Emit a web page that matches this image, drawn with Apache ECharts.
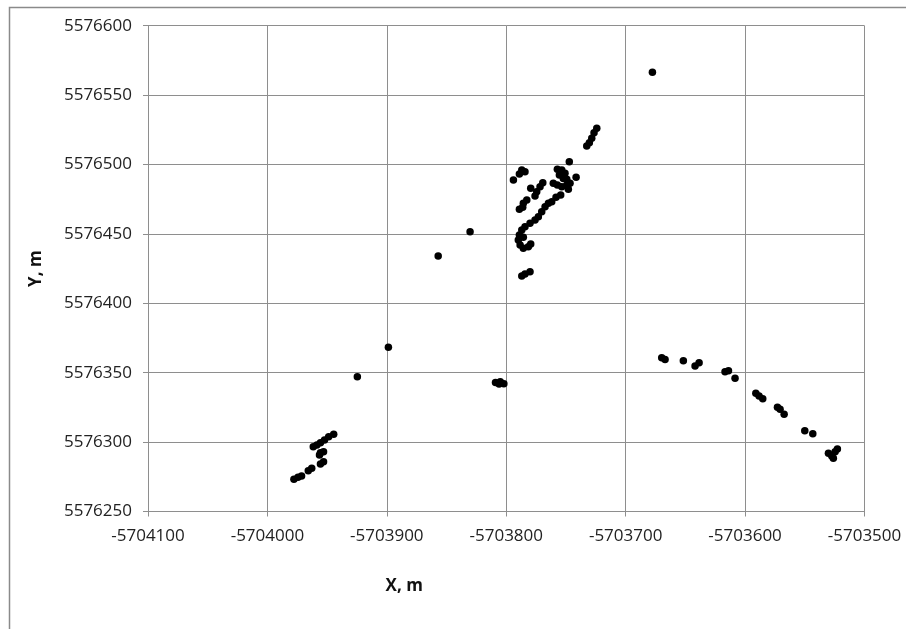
<!DOCTYPE html>
<html>
<head>
<meta charset="utf-8">
<script src="https://cdn.jsdelivr.net/npm/echarts@6/dist/echarts.min.js"></script>
<style>
html,body{margin:0;padding:0;background:#fff;}
#chart{width:906px;height:629px;}
</style>
</head>
<body>
<div id="chart"></div>
<script>
// Point coordinates (X, m) and (Y, m)
const xValues = [
  // south-west group
  -5703977.8,-5703974.4,-5703971.4,-5703965.8,-5703962.9,-5703955.6,-5703953.0,-5703956.4,-5703953.0,-5703955.6,
  -5703961.6,-5703958.6,-5703955.6,-5703952.2,-5703948.7,-5703944.5,
  // isolated points
  -5703924.7,-5703898.7,-5703857.0,-5703830.3,-5703677.6,
  // group near -5703805
  -5703809.0,-5703805.0,-5703802.0,-5703806.0,
  // north-east group
  -5703724.2,-5703726.5,-5703728.4,-5703730.4,-5703732.6,-5703747.2,
  -5703757.2,-5703753.5,-5703755.5,-5703752.2,-5703749.3,-5703760.6,-5703757.2,-5703753.5,-5703749.3,-5703746.6,
  -5703741.5,-5703750.8,-5703748.0,-5703754.4,-5703758.3,-5703761.9,
  -5703787.0,-5703784.3,-5703789.0,-5703794.0,
  -5703769.4,-5703771.7,-5703774.5,-5703775.9,-5703779.5,
  -5703782.8,-5703785.7,-5703786.2,-5703789.0,
  -5703764.7,-5703767.5,-5703770.3,-5703773.1,-5703775.9,-5703780.1,-5703784.3,-5703787.0,-5703789.0,-5703789.9,
  -5703788.4,-5703785.7,-5703781.5,-5703779.5,-5703785.7,
  -5703787.0,-5703784.3,-5703780.1,
  // south-east group
  -5703669.8,-5703667.0,-5703651.7,-5703641.9,-5703638.5,-5703616.8,-5703613.9,-5703608.4,
  -5703591.0,-5703588.3,-5703585.2,-5703572.9,-5703570.7,-5703567.3,-5703550.0,-5703543.3,
  -5703530.2,-5703527.4,-5703524.6,-5703522.7,-5703526.1
];
const yValues = [
  5576273.2,5576274.6,5576275.6,5576279.4,5576281.1,5576284.2,5576285.9,5576290.7,5576293.1,5576292.4,
  5576296.7,5576297.9,5576299.6,5576301.5,5576303.9,5576305.6,
  5576347.1,5576368.3,5576434.0,5576451.6,5576566.4,
  5576343.0,5576343.5,5576342.0,5576341.8,
  5576526.1,5576522.9,5576518.9,5576515.7,5576513.3,5576502.0,
  5576496.5,5576496.0,5576492.4,5576490.0,5576489.3,5576486.5,5576485.2,5576484.0,5576485.2,5576486.5,
  5576490.8,5576493.7,5576482.1,5576478.0,5576476.4,5576473.2,
  5576496.0,5576494.8,5576493.2,5576488.8,
  5576486.9,5576484.0,5576480.4,5576477.3,5576482.9,
  5576474.4,5576472.0,5576469.2,5576467.7,
  5576472.0,5576469.6,5576466.0,5576462.4,5576460.0,5576457.6,5576455.2,5576452.8,5576449.2,5576445.6,
  5576442.0,5576439.6,5576440.8,5576442.7,5576447.6,
  5576419.7,5576421.1,5576422.8,
  5576360.8,5576359.5,5576358.6,5576354.8,5576357.2,5576350.7,5576351.4,5576346.0,
  5576335.2,5576333.2,5576331.3,5576325.1,5576323.6,5576320.0,5576308.2,5576306.1,
  5576291.9,5576290.0,5576293.1,5576295.0,5576288.3
];
const xAxisName = 'X, m';
const yAxisName = 'Y, m';

const points = xValues.map((x, i) => [x, yValues[i]]);

const chart = echarts.init(document.getElementById('chart'), null, {renderer: 'canvas'});
const gridColor = '#8e8e8e';
const labelFont = {fontFamily: '"Open Sans", sans-serif', fontSize: 17, color: '#222'};

chart.setOption({
  animation: false,
  backgroundColor: '#fff',
  grid: {left: 148, right: 41.5, top: 25.7, bottom: 117.5, containLabel: false},
  graphic: [{
    type: 'rect',
    shape: {x: 9.5, y: 7.5, width: 1000, height: 1000},
    style: {fill: 'none', stroke: '#8a8a8a', lineWidth: 1.5},
    silent: true, z: 0
  }],
  xAxis: {
    type: 'value',
    min: -5704100, max: -5703500, interval: 100,
    name: xAxisName,
    nameLocation: 'middle',
    nameGap: 66,
    nameTextStyle: {fontFamily: '"Open Sans", sans-serif', fontSize: 17, fontWeight: 'bold', color: '#111', padding: [0, 204, 0, 0]},
    axisLine: {show: true, onZero: false, lineStyle: {color: gridColor, width: 1}},
    axisTick: {show: true, inside: false, length: 5, lineStyle: {color: gridColor}},
    axisLabel: Object.assign({margin: 16, formatter: v => String(v)}, labelFont),
    splitLine: {show: true, lineStyle: {color: gridColor, width: 1}}
  },
  yAxis: {
    type: 'value',
    min: 5576250, max: 5576600, interval: 50,
    name: yAxisName,
    nameLocation: 'middle',
    nameGap: 103,
    nameRotate: 90,
    nameTextStyle: {fontFamily: '"Open Sans", sans-serif', fontSize: 17, fontWeight: 'bold', color: '#111'},
    axisLine: {show: true, onZero: false, lineStyle: {color: gridColor, width: 1}},
    axisTick: {show: true, inside: false, length: 5, lineStyle: {color: gridColor}},
    axisLabel: Object.assign({margin: 16, formatter: v => String(v)}, labelFont),
    splitLine: {show: true, lineStyle: {color: gridColor, width: 1}}
  },
  series: [{
    type: 'scatter',
    data: points,
    symbol: 'circle',
    symbolSize: 7.5,
    itemStyle: {color: '#000', opacity: 1},
    z: 5
  }]
});
</script>
</body>
</html>
